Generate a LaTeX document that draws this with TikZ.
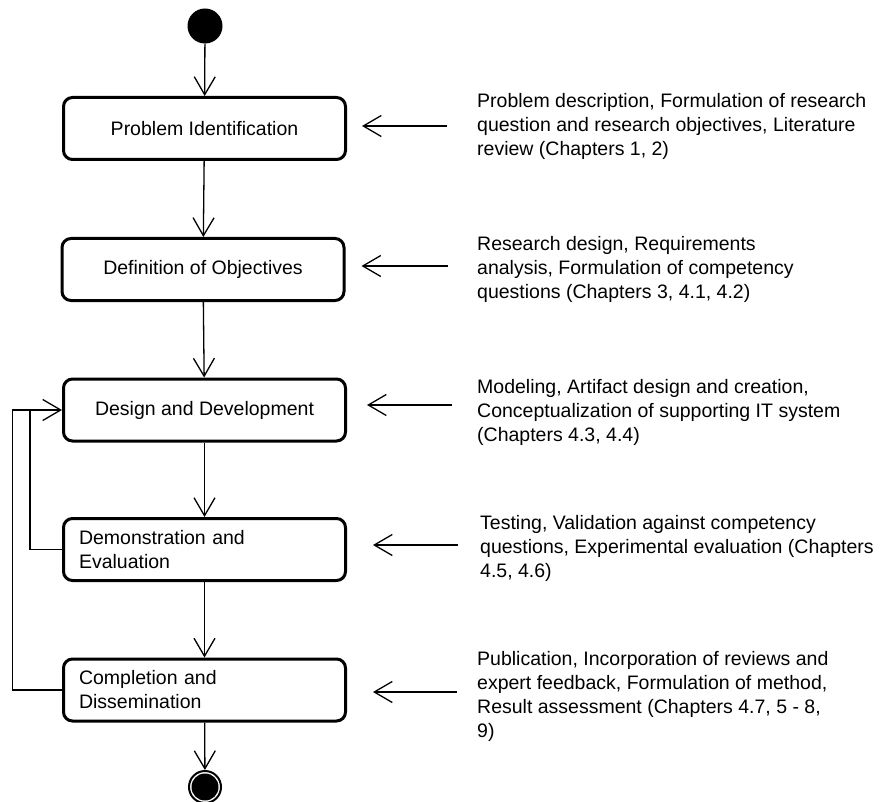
\documentclass[tikz,border=0pt]{standalone}
\usepackage{fontspec}
\setmainfont{Liberation Sans}
\usetikzlibrary{arrows.meta}

\begin{document}
\begin{tikzpicture}[x=1pt, y=-1pt,
    every node/.style={font=\fontsize{19.5}{24}\selectfont},
    act/.style={draw, line width=3pt, rounded corners=9pt, minimum width=282pt,
      minimum height=62pt, align=center, inner sep=0pt},
    act2/.style={act, text width=251pt, align=left, inner xsep=15.5pt},
    note/.style={anchor=west, align=left, inner sep=0pt},
    flow/.style={line width=1.3pt,
      -{Straight Barb[length=18pt, width=21pt, line width=1.3pt]}}]
        \useasboundingbox (0,0) rectangle (883,802);
        \node[circle, fill, inner sep=0pt, minimum size=35pt] (st) at (205, 26) {};
        \node[act] (prob) at (204.5, 128.5) {Problem Identification};
        \node[act] (def) at (203, 269.5) {Definition of Objectives};
        \node[act] (dsgn) at (204.5, 410) {Design and Development};
        \node[act2] (demo) at (204.5, 549.5) {Demonstration and\\Evaluation};
        \node[act2] (comp) at (204.5, 690) {Completion and\\Dissemination};
        \node[circle, draw, line width=2pt, inner sep=0pt, minimum size=32pt] (fin) at (205, 787) {};
        \node[circle, fill, inner sep=0pt, minimum size=27pt] (fincore) at (fin) {};
        \node[note] (n1) at (477, 126.5)
          {Problem description, Formulation of research\\question and research objectives, Literature\\review (Chapters 1, 2)};
        \node[note] (n2) at (477, 269.3)
          {Research design, Requirements\\analysis, Formulation of competency\\questions (Chapters 3, 4.1, 4.2)};
        \node[note] (n3) at (477, 412)
          {Modeling, Artifact design and creation,\\Conceptualization of supporting IT system\\(Chapters 4.3, 4.4)};
        \node[note] (n4) at (480, 548)
          {Testing, Validation against competency\\questions, Experimental evaluation (Chapters\\4.5, 4.6)};
        \node[note] (n5) at (477, 696)
          {Publication, Incorporation of reviews and\\expert feedback, Formulation of method,\\Result assessment (Chapters 4.7, 5 - 8,\\9)};
        \coordinate (s1) at (447, 126);
        \coordinate (s2) at (448, 266);
        \coordinate (s3) at (452, 405);
        \coordinate (s4) at (458, 545);
        \coordinate (s5) at (457, 692);
        \coordinate (fb1) at (30, 410);
        \coordinate (fb2) at (12.7, 410);
        \draw[flow] (st) -- (prob);
        \draw[flow] (prob) -- (def);
        \draw[flow] (def) -- (dsgn);
        \draw[flow] (dsgn) -- (demo);
        \draw[flow] (demo) -- (comp);
        \draw[flow] (comp) -- (fin);
        \draw[flow] (demo.west) -| (fb1) -- (dsgn.west);
        \draw[line width=1.3pt] (comp.west) -| (fb2) -- (fb1);
        \draw[flow, shorten >=15pt] (s1) -- (s1 -| prob.east);
        \draw[flow, shorten >=16pt] (s2) -- (s2 -| def.east);
        \draw[flow, shorten >=20pt] (s3) -- (s3 -| dsgn.east);
        \draw[flow, shorten >=26pt] (s4) -- (s4 -| demo.east);
        \draw[flow, shorten >=26pt] (s5) -- (s5 -| comp.east);
      \end{tikzpicture}
\end{document}
